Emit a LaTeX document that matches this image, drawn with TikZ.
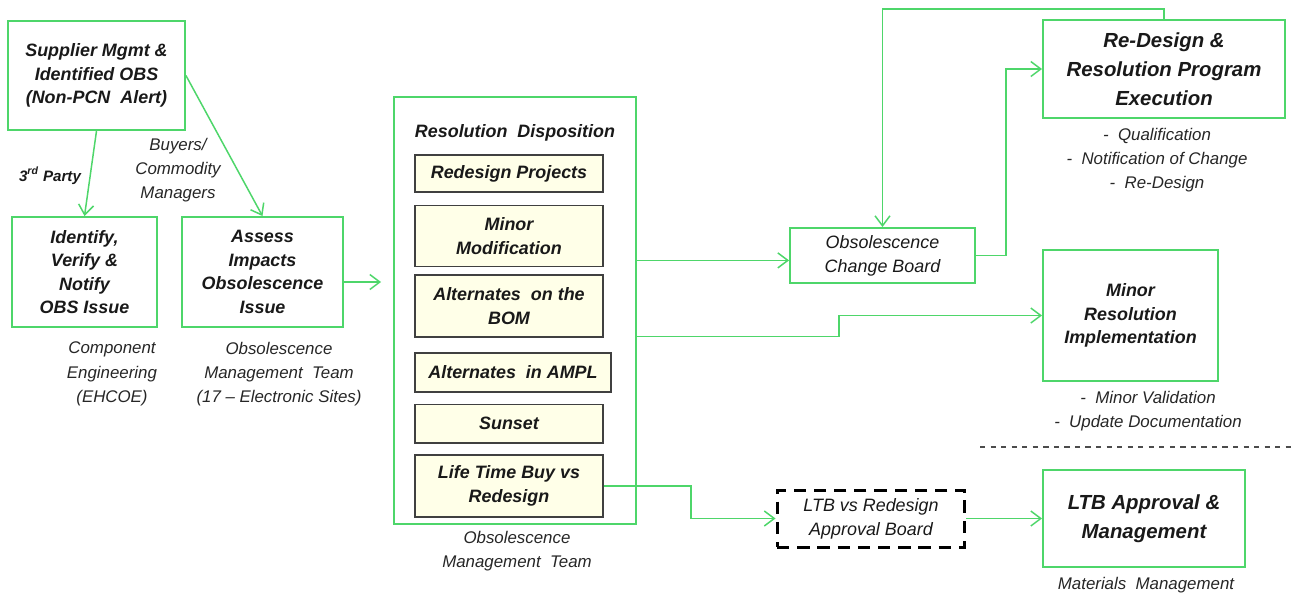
\documentclass[tikz,border=0pt]{standalone}
\usepackage{fontspec}
\setmainfont{Liberation Sans}
\usetikzlibrary{arrows.meta,positioning}
\definecolor{obsgreen}{RGB}{78,214,106}
\definecolor{cream}{RGB}{255,255,232}

\begin{document}
\begin{tikzpicture}[x=0.02cm,y=-0.02cm,
	>={Straight Barb[length=0.2cm,width=0.3cm]},
	boldfont/.style={font=\fontsize{10.2}{13.4}\selectfont\bfseries\itshape},
	bigfont/.style={font=\fontsize{11.6}{16.4}\selectfont\bfseries\itshape},
	notefont/.style={font=\fontsize{9.6}{13.8}\selectfont\itshape},
	gbox/.style={draw=obsgreen,line width=1.1pt,align=center,inner sep=1pt,text=black!90,boldfont},
	optbox/.style={draw=black!75,fill=cream,line width=0.9pt,align=center,inner sep=1pt,minimum width=3.76cm,text=black!90,boldfont},
	note/.style={align=center,text=black!85,notefont},
	link/.style={->,draw=obsgreen,line width=0.85pt}]
	\useasboundingbox (0,0) rectangle (1292,593);

	% intake
	\node(sup)[gbox,minimum width=3.54cm,minimum height=2.18cm] at (96.5,75.5){Supplier Mgmt \&\\Identified OBS\\(Non-PCN\ \ Alert)};
	\node(idn)[gbox,minimum width=2.9cm,minimum height=2.2cm] at (84.5,272){Identify,\\Verify \&\\Notify\\OBS Issue};
	\node(ass)[gbox,minimum width=3.22cm,minimum height=2.2cm] at (262.5,272){Assess\\Impacts\\Obsolescence\\Issue};
	\node(thp)[text=black!90,font=\fontsize{8.6}{10}\selectfont\bfseries\itshape] at (50,176){3\textsuperscript{rd} Party};
	\node(buy)[note] at (178,170){Buyers/\\Commodity\\Managers};
	\node(cel)[note] at (112,374){Component\\Engineering\\(EHCOE)};
	\node(omtl)[note] at (279,374){Obsolescence\\Management\ \ Team\\(17 – Electronic Sites)};

	% disposition
	\node(res)[draw=obsgreen,line width=1.1pt,minimum width=4.84cm,minimum height=8.54cm] at (515,310.5){};
	\node(rest)[text=black!90,boldfont] at (515,133){Resolution\ \ Disposition};
	\node(rp)[optbox,minimum height=0.74cm] at (509,173.5){Redesign Projects};
	\node(mm)[optbox,minimum height=1.22cm,below=0.24cm of rp]{Minor\\Modification};
	\node(bom)[optbox,minimum height=1.24cm,below=0.14cm of mm]{Alternates\ \ on the\\BOM};
	\node(ampl)[optbox,minimum width=3.92cm,minimum height=0.78cm,below=0.28cm of bom.south west,anchor=north west]{Alternates\ \ in AMPL};
	\node(sun)[optbox,minimum height=0.78cm,below=0.22cm of ampl.south west,anchor=north west]{Sunset};
	\node(ltb)[optbox,minimum height=1.24cm,below=0.2cm of sun]{Life Time Buy vs\\Redesign};
	\node(omt2)[note] at (517,551){Obsolescence\\Management\ \ Team};

	% outcomes
	\node(ocb)[gbox,font=\fontsize{10.2}{13.8}\selectfont\itshape,minimum width=3.7cm,minimum height=1.1cm] at (882.5,255.5){Obsolescence\\Change Board};
	\node(rdz)[gbox,bigfont,minimum width=4.84cm,minimum height=1.96cm] at (1164,69){Re-Design \&\\Resolution Program\\Execution};
	\node(rdzl)[note] at (1157,160){-\ \ Qualification\\-\ \ Notification of Change\\-\ \ Re-Design};
	\node(mri)[gbox,minimum width=3.5cm,minimum height=2.62cm] at (1130.5,315.5){Minor\\Resolution\\Implementation};
	\node(mril)[note] at (1148,411){-\ \ Minor Validation\\-\ \ Update Documentation};
	\node(lab)[draw=black,line width=1.7pt,dash pattern=on 7pt off 4.5pt,align=center,text=black!90,font=\fontsize{10.2}{13.8}\selectfont\itshape,minimum width=3.76cm,minimum height=1.14cm] at (871,518.5){LTB vs Redesign\\Approval Board};
	\node(lam)[gbox,bigfont,minimum width=4.04cm,minimum height=1.94cm] at (1144,518.5){LTB Approval \&\\Management};
	\node(mml)[note] at (1146,585){Materials\ \ Management};
	\draw[black!70,dashed,line width=0.6pt] (980,447) -- (1292,447);

	\path	(sup.south) edge[link] (idn.north)
		(sup.east) edge[link] (ass.north)
		(ass.-7.1) edge[link,shorten >=0.24cm] (res.west |- ass.-7.1)
		(res.east |- ocb.183) edge[link] (ocb.183)
		(lab.east) edge[link] (lam.west);
	\draw[link] (ocb.east) -- ++(30,0) |- (rdz.west);
	\draw[link] (rdz.north) -- ++(0,-10) -| (ocb.north);
	\draw[link] (res.-12.4) -- ++(202,0) |- (mri.west);
	\draw[link] (ltb.east) -- ++(87,0) |- (lab.west);
\end{tikzpicture}
\end{document}
